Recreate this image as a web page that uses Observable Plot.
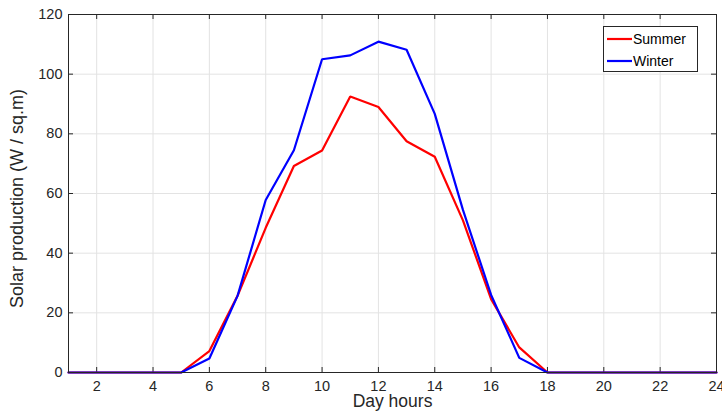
<!DOCTYPE html>
<html>
<head>
<meta charset="utf-8">
<script src="https://cdn.jsdelivr.net/npm/d3@7"></script>
<script src="https://cdn.jsdelivr.net/npm/@observablehq/plot@0.6"></script>
<style>
  html, body { margin: 0; padding: 0; background: #fff; }
  #wrap { position: relative; width: 722px; height: 411px; font-family: "Liberation Sans", Arial, sans-serif; }
  #legend { position: absolute; left: 603px; top: 26px; width: 95px; height: 46px; border: 1px solid #262626; background: #fff; box-sizing: border-box; font-size: 14px; color: #000; }
  .item { position: absolute; left: 3px; display: flex; align-items: center; height: 16px; }
  .item svg { margin-right: 1px; }
</style>
</head>
<body>
<div id="wrap"><div id="legend"></div></div>
<script>
const hours = [1,2,3,4,5,6,7,8,9,10,11,12,13,14,15,16,17,18,19,20,21,22,23,24];
const summer = [0,0,0,0,0,7.2,25.7,48.5,69.2,74.4,92.5,89.0,77.5,72.3,51,24.6,8.4,0,0,0,0,0,0,0];
const winter = [0,0,0,0,0,4.7,25.7,57.8,74.5,105.0,106.3,110.9,108.2,86.7,54.5,26.0,4.9,0,0,0,0,0,0,0];
const seriesNames = ["Summer", "Winter"];
const seriesColors = ["#ff0000", "#0000ff"];
const xTicks = [2,4,6,8,10,12,14,16,18,20,22,24];
const yTicks = [0,20,40,60,80,100,120];
const xLabel = "Day hours";
const yLabel = "Solar production (W / sq.m)";

const rows = [];
seriesNames.forEach((name, si) => {
  const vals = si === 0 ? summer : winter;
  hours.forEach((h, i) => rows.push({series: name, hour: h, value: vals[i]}));
});

const W = 722, H = 411, mL = 68, mR = 6, mT = 14, mB = 39;
const pw = W - mL - mR, ph = H - mT - mB;
const tickLen = 5;
const frameColor = "#262626";

const chart = Plot.plot({
  width: W, height: H,
  marginLeft: mL, marginRight: mR, marginTop: mT, marginBottom: mB,
  style: {fontFamily: "'Liberation Sans', Arial, sans-serif", background: "#fff", color: "#262626"},
  x: {domain: [1, 24], ticks: xTicks, label: null},
  y: {domain: [0, 120], ticks: yTicks, label: null},
  marks: [
    Plot.gridX(xTicks, {stroke: "#e3e3e3", strokeOpacity: 1, strokeWidth: 1}),
    Plot.gridY(yTicks, {stroke: "#e3e3e3", strokeOpacity: 1, strokeWidth: 1}),
    // inward ticks
    Plot.ruleX(xTicks, {x: d => d, insetTop: ph - tickLen, stroke: frameColor}),
    Plot.ruleX(xTicks, {x: d => d, insetBottom: ph - tickLen, stroke: frameColor}),
    Plot.ruleY(yTicks, {y: d => d, insetRight: pw - tickLen, stroke: frameColor}),
    Plot.ruleY(yTicks, {y: d => d, insetLeft: pw - tickLen, stroke: frameColor}),
    Plot.axisX(xTicks, {tickSize: 0, tickPadding: 8, fontSize: 14.5, fill: "#262626"}),
    Plot.axisY(yTicks, {tickSize: 0, tickPadding: 6, fontSize: 14.5, fill: "#262626"}),
    Plot.lineY(rows, {x: "hour", y: "value", z: "series", stroke: d => seriesColors[seriesNames.indexOf(d.series)], strokeWidth: 2.2, strokeLinejoin: "miter"}),
    Plot.frame({stroke: frameColor, strokeWidth: 1}),
    Plot.text([xLabel], {frameAnchor: "bottom", lineAnchor: "bottom", textAnchor: "middle", dy: 34, fontSize: 17.5, fill: "#262626", text: d => d}),
    Plot.text([yLabel], {frameAnchor: "left", textAnchor: "middle", lineAnchor: "top", dx: -58, dy: 5, rotate: -90, fontSize: 18, fill: "#262626", text: d => d})
  ]
});
document.getElementById("wrap").prepend(chart);

const legend = document.getElementById("legend");
seriesNames.forEach((name, i) => {
  const it = document.createElement("div");
  it.className = "item";
  it.style.top = (4 + i * 22) + "px";
  it.innerHTML = `<svg width="25" height="4"><line x1="0" y1="2" x2="25" y2="2" stroke="${seriesColors[i]}" stroke-width="2.2"/></svg><span>${name}</span>`;
  legend.appendChild(it);
});
</script>
</body>
</html>
